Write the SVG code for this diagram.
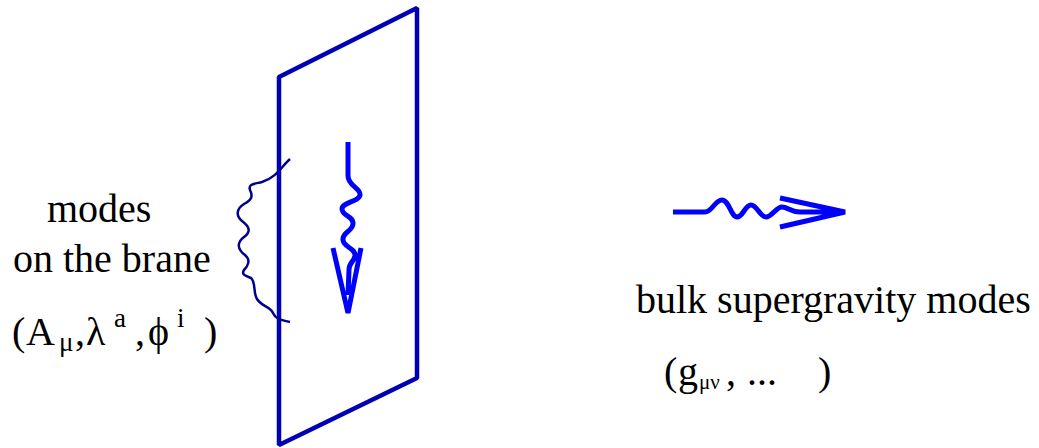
<svg xmlns="http://www.w3.org/2000/svg" width="1039" height="448" viewBox="0 0 1039 448">
<style>
.brane{fill:none;stroke:#0000b4;stroke-width:4.5;stroke-linejoin:bevel}
.string{fill:none;stroke:#00008c;stroke-width:2.5;stroke-linecap:butt}
.arr{fill:none;stroke:#0000ff;stroke-width:5;stroke-linecap:butt;stroke-linejoin:miter}
</style>
<rect width="1039" height="448" fill="#fff"/>
<g id="brane">
<polygon class="brane" points="279,77 417,8 417,378 279,445"/>
</g>
<g id="connectors">
<path id="open-string" class="string" d="M290,159 C282,166 276,178 262,182 C254,184 248,184 250,190 C253,196 252,200 244,204 C236,209 236,216 242,221 C250,227 251,232 244,237 C236,243 238,250 245,255 C251,260 248,266 244,270 C241,275 246,276 251,278 C256,282 253,293 257,299 C262,307 270,306 273,313 C276,320 282,320 290,322"/>
<path id="brane-arrow" class="arr" d="M348,142 L348,176 C348,186 361,188 360,195 C359,202 342,202 342,209 C342,216 354,216 353,224 C352,232 342,232 343,240 C344,248 356,248 355,256 C354,262 349,262 349,270 L348,295 M333,248 L348,313 L361,248"/>
<path id="bulk-arrow" class="arr" d="M673,212 L705,212 C712,212 715,200 722,200 C729,200 731,217 737,217 C743,217 745,205 751,205 C757,205 760,217 766,217 C772,217 776,207 782,207 C788,207 790,212 800,212 L835,212 M780,198 L845,212 L780,227"/>
</g>
<g id="label-brane-modes" font-family="Liberation Serif" font-size="40" fill="#000">
<text x="47" y="222">modes</text>
<text x="13" y="272">on the brane</text>
<text y="345"><tspan x="12">(</tspan><tspan x="26">A</tspan><tspan font-size="27" x="59" y="351">μ</tspan><tspan x="75" y="345">,</tspan><tspan x="86">λ</tspan><tspan font-size="27" x="114" y="327">a</tspan><tspan x="135" y="345">,</tspan><tspan x="148">ϕ</tspan><tspan font-size="27" x="177" y="327">i</tspan><tspan x="204" y="345">)</tspan></text>
</g>
<g id="label-bulk-modes" font-family="Liberation Serif" font-size="40" fill="#000">
<text x="636" y="313">bulk supergravity modes</text>
<text y="385"><tspan x="664">(</tspan><tspan x="678">g</tspan><tspan font-size="21" x="699" y="389">μν</tspan><tspan x="726" y="385">,</tspan><tspan x="747">...</tspan><tspan x="818">)</tspan></text>
</g>
</svg>
